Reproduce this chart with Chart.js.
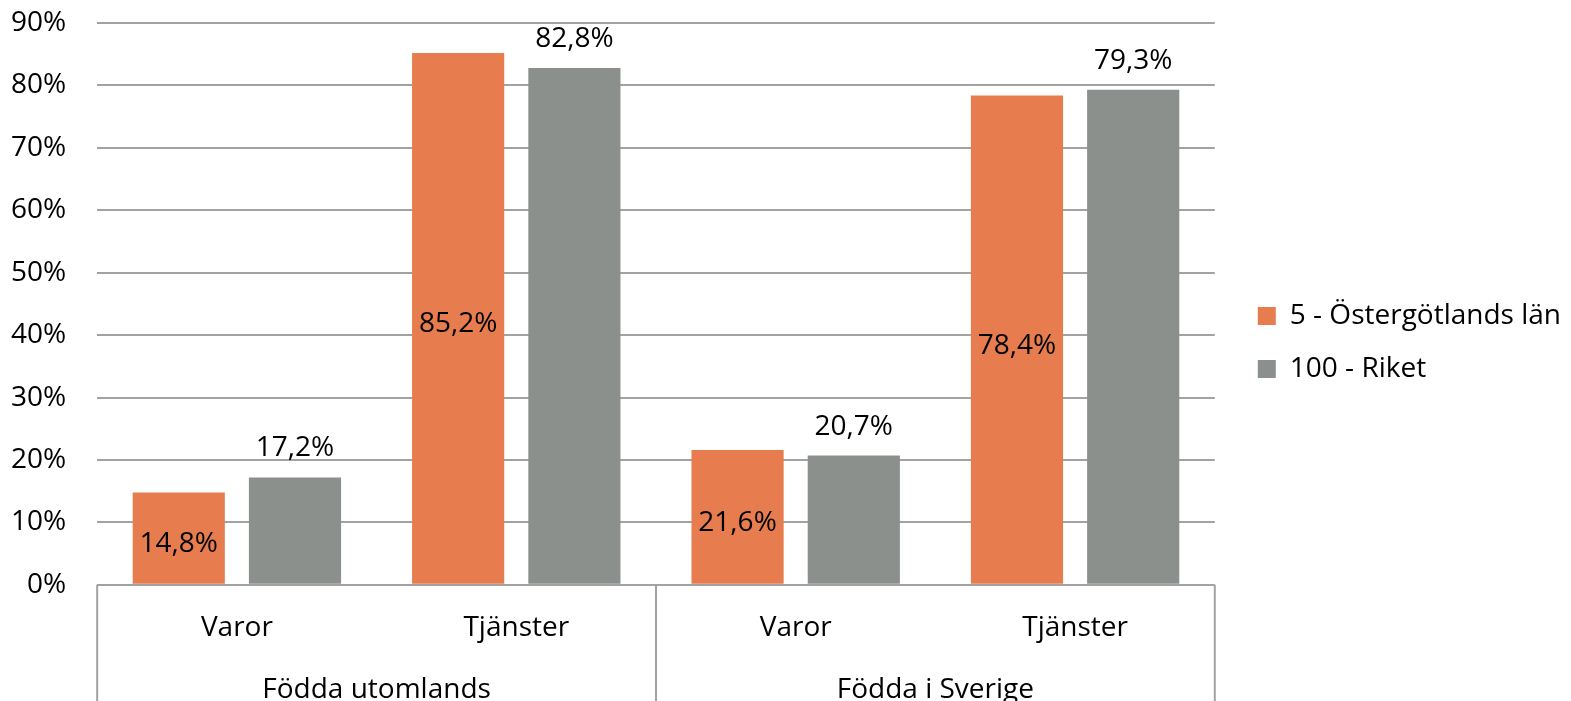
<!DOCTYPE html>
<html>
<head>
<meta charset="utf-8">
<script src="https://cdn.jsdelivr.net/npm/chart.js@4"></script>
<style>
  html, body { margin: 0; padding: 0; background: #fff; }
  #wrap { width: 1571px; height: 701px; }
</style>
</head>
<body>
<div id="wrap"><canvas id="chart"></canvas></div>
<script>
// data
const categories = ['Varor', 'Tjänster', 'Varor', 'Tjänster'];
const groups = ['Födda utomlands', 'Födda i Sverige'];
const seriesNames = ['5 - Östergötlands län', '100 - Riket'];
const ostergotland = [14.8, 85.2, 21.6, 78.4];
const riket = [17.2, 82.8, 20.7, 79.3];
const yMax = 90;
const yStep = 10;

const ORANGE = '#e77c4f';
const GREY = '#8b908d';
const LINE = '#a2a2a2';
const FONT = "'Open Sans', sans-serif";

Chart.defaults.font.family = FONT;
Chart.defaults.font.size = 28;
Chart.defaults.color = '#000';

const fmt = v => v.toFixed(1).replace('.', ',') + '%';

// värdeetiketter: orange inne i stapeln, grå ovanför
const valueLabels = {
  id: 'valueLabels',
  afterDatasetsDraw(chart) {
    const ctx = chart.ctx;
    ctx.save();
    ctx.font = '28px ' + FONT;
    ctx.fillStyle = '#000';
    ctx.textAlign = 'center';
    chart.data.datasets.forEach((ds, di) => {
      chart.getDatasetMeta(di).data.forEach((bar, i) => {
        const txt = fmt(ds.data[i]);
        if (di === 0) {
          ctx.textBaseline = 'middle';
          ctx.fillText(txt, bar.x, (bar.y + bar.base) / 2 + 6);
        } else {
          ctx.textBaseline = 'alphabetic';
          ctx.fillText(txt, bar.x, bar.y - 21);
        }
      });
    });
    ctx.restore();
  }
};

// lodräta linjer mellan grupperna under x-axeln
const groupLines = {
  id: 'groupLines',
  afterDraw(chart) {
    const x = chart.scales.x;
    const { ctx, chartArea } = chart;
    const mid = (x.getPixelForValue(1) + x.getPixelForValue(2)) / 2;
    ctx.save();
    ctx.strokeStyle = LINE;
    ctx.lineWidth = 2;
    [x.left, mid, x.right].forEach(px => {
      ctx.beginPath();
      ctx.moveTo(px, chartArea.bottom);
      ctx.lineTo(px, chart.height);
      ctx.stroke();
    });
    ctx.restore();
  }
};

// flytta legenden lite åt höger och uppåt
const legendShift = {
  id: 'legendShift',
  afterLayout(chart) {
    const lg = chart.legend;
    lg.left += 18;
    lg.right += 18;
    lg.top -= 24;
    lg.bottom -= 24;
  }
};

new Chart(document.getElementById('chart'), {
  type: 'bar',
  data: {
    labels: categories,
    datasets: [
      { label: seriesNames[0], data: ostergotland, backgroundColor: ORANGE },
      { label: seriesNames[1], data: riket, backgroundColor: GREY }
    ]
  },
  options: {
    animation: false,
    responsive: true,
    maintainAspectRatio: false,
    categoryPercentage: 0.832,
    barPercentage: 0.793,
    layout: { padding: { top: 23, left: -20, right: 18, bottom: -9 } },
    scales: {
      x: {
        grid: { display: false, drawTicks: false },
        border: { display: false },
        ticks: { padding: 26, autoSkip: false, maxRotation: 0 }
      },
      x2: {
        type: 'category',
        position: 'bottom',
        labels: groups,
        offset: true,
        grid: { display: false, drawTicks: false },
        border: { display: false },
        ticks: { padding: 3, autoSkip: false, maxRotation: 0 }
      },
      y: {
        min: 0,
        max: yMax,
        ticks: {
          stepSize: yStep,
          padding: 31,
          callback: v => v + '%'
        },
        grid: { color: LINE, lineWidth: 2, drawTicks: false },
        border: { display: false },
        afterFit(scale) {
          scale.paddingTop = 0;
          scale.paddingBottom = 0;
        }
      }
    },
    plugins: {
      legend: {
        position: 'right',
        labels: { boxWidth: 18, boxHeight: 18, padding: 25 }
      },
      tooltip: { enabled: false }
    }
  },
  plugins: [valueLabels, groupLines, legendShift]
});
</script>
</body>
</html>
